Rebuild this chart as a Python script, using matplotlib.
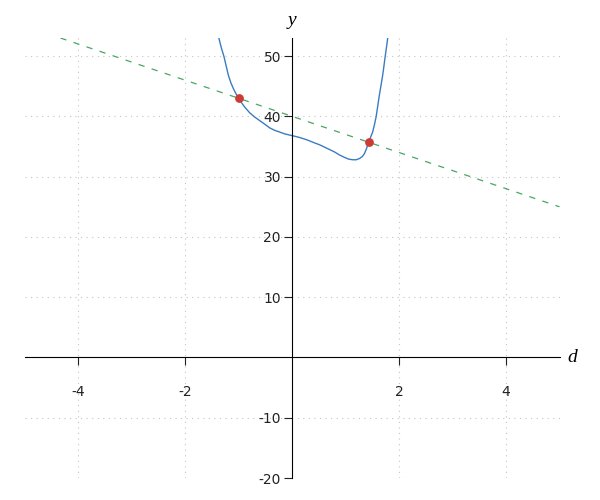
import numpy as np
import matplotlib
matplotlib.use("Agg")
import matplotlib.pyplot as plt

# curve
curve_d = [-1.40, -1.366, -1.320, -1.272, -1.230, -1.190, -1.145, -1.097, -1.045,
           -0.993, -0.940, -0.881, -0.793, -0.700, -0.606, -0.510, -0.420, -0.330,
           -0.233, -0.140, -0.047, 0.050, 0.140, 0.280, 0.420, 0.510, 0.606, 0.700,
           0.793, 0.885, 0.979, 1.060, 1.134, 1.200, 1.259, 1.310, 1.352, 1.390,
           1.427, 1.467, 1.507, 1.540, 1.571, 1.602, 1.632, 1.664, 1.694, 1.717,
           1.739, 1.763, 1.787, 1.81]
curve_y = [54.5, 52.9, 51.3, 49.9, 48.3, 46.8, 45.6, 44.6, 43.7,
           42.9, 42.2, 41.5, 40.6, 39.9, 39.3, 38.7, 38.1, 37.7,
           37.4, 37.1, 36.9, 36.7, 36.5, 36.1, 35.6, 35.3, 34.9, 34.5,
           34.1, 33.6, 33.2, 32.9, 32.8, 32.8, 33.0, 33.3, 33.8, 34.6,
           35.6, 36.5, 37.4, 38.6, 39.9, 41.7, 43.5, 45.2, 46.8, 48.3,
           49.8, 51.3, 52.9, 54.5]

# dashed line end points
line_d = [-4.33, 5.0]
line_y = [53.0, 25.0]

# intersection points
pts_d = [-0.99, 1.43]
pts_y = [42.97, 35.71]

xticks = [-4, -2, 2, 4]
yticks = [-20, -10, 10, 20, 30, 40, 50]

fig = plt.figure(figsize=(6, 5), dpi=100)
ax = fig.add_axes([0.041, 0.044, 0.8915, 0.88])

ax.plot(line_d, line_y, color="#4aa564", lw=0.9, dashes=(5, 6))
ax.plot(curve_d, curve_y, color="#3a7cc4", lw=1.0)
ax.scatter(pts_d, pts_y, color="#cc3b36", s=28, zorder=5)

ax.set_xlim(-5, 5)
ax.set_ylim(-20, 53)

ax.spines["left"].set_position(("data", 0))
ax.spines["bottom"].set_position(("data", 0))
ax.spines["top"].set_visible(False)
ax.spines["right"].set_visible(False)

ax.set_xticks(xticks)
ax.set_yticks(yticks)
ax.set_xticklabels([str(t) for t in xticks])
ax.set_yticklabels([str(t) for t in yticks])
ax.tick_params(axis="x", direction="out", length=6, pad=14, labelsize=10, colors="#222222")
ax.tick_params(axis="y", direction="out", length=6, pad=2, labelsize=10, colors="#222222")
ax.grid(True, linestyle=(0, (1, 4)), color="#c4c4c4", lw=0.8)
ax.set_axisbelow(True)

ax.text(0, 54.5, "y", ha="center", va="bottom", fontsize=14,
        family="Liberation Serif", style="italic")
ax.text(5.15, 0, "d", ha="left", va="center", fontsize=14,
        family="Liberation Serif", style="italic")

fig.savefig("out.png", dpi=100)
